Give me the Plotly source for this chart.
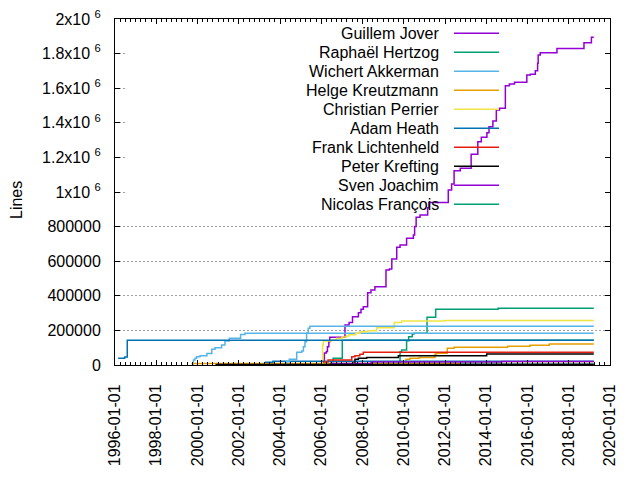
import plotly.graph_objects as go

# dpkg-style "lines per author" history
END_DATE = "2019-03-20"

guillem_dates = ["2005-08-01", "2006-01-25", "2006-02-25", "2006-04-01", "2006-04-20", "2006-05-15",
                 "2006-06-01", "2007-02-25", "2007-05-08", "2007-07-08", "2007-10-20", "2007-12-05",
                 "2008-01-15", "2008-04-01", "2008-05-30", "2008-08-08", "2009-02-20", "2009-04-20",
                 "2009-06-03", "2009-08-29", "2009-10-27", "2010-02-20", "2010-06-20", "2010-07-12",
                 "2010-08-08", "2010-10-16", "2011-02-28", "2011-03-22", "2012-02-28", "2012-04-27",
                 "2012-06-10", "2012-09-27", "2013-04-08", "2013-08-04", "2013-10-05", "2014-01-12",
                 "2014-02-18", "2014-04-28", "2014-06-28", "2014-08-25", "2014-12-05", "2015-02-14",
                 "2015-05-16", "2015-12-20", "2016-02-20", "2016-05-18", "2016-06-28", "2016-07-08",
                 "2016-08-14", "2017-06-06", "2018-09-27", "2019-02-06"]
guillem_lines = [3000, 20000, 70000, 78000, 105000, 135000,
                 160000, 231000, 245000, 279000, 302000, 322000,
                 337000, 418000, 434000, 452000, 549000, 555000,
                 612000, 680000, 694000, 732000, 751000, 800000,
                 854000, 867000, 909000, 940000, 1011000, 1046000,
                 1123000, 1137000, 1218000, 1290000, 1316000, 1343000,
                 1377000, 1410000, 1474000, 1484000, 1614000, 1624000,
                 1634000, 1676000, 1680000, 1701000, 1744000, 1792000,
                 1805000, 1830000, 1863000, 1894000]

raphael_dates = ["2007-03-01", "2009-10-27", "2009-11-24", "2010-02-20", "2010-03-28", "2010-05-30",
                 "2010-07-01", "2011-02-17", "2011-07-20", "2014-07-30"]
raphael_lines = [3000, 77000, 87000, 140000, 164000, 179000,
                 183000, 276000, 322000, 328000]

wichert_dates = ["1999-09-20", "1999-10-20", "1999-11-17", "1999-12-16", "2000-02-14", "2000-06-15",
                 "2000-09-10", "2000-11-06", "2001-03-03", "2001-05-01", "2001-07-16", "2002-02-02",
                 "2002-04-20"]
wichert_lines = [6000, 29000, 39000, 48000, 54000, 67000,
                 91000, 100000, 116000, 139000, 154000, 177000,
                 183000]

helge_dates = ["2009-12-20", "2010-02-10", "2010-04-20", "2010-10-01", "2011-07-08", "2011-08-01",
               "2012-02-10", "2012-06-10", "2015-01-15", "2016-02-15", "2017-01-22"]
helge_lines = [5000, 33000, 39000, 44000, 64000, 68000,
               96500, 102000, 108000, 114000, 121000]

christian_dates = ["2006-01-01", "2006-01-25", "2006-02-05", "2006-07-01", "2006-10-01", "2007-01-01",
                   "2007-03-25", "2007-05-01", "2007-09-01", "2007-11-17", "2008-04-01", "2008-09-08",
                   "2009-07-16", "2009-11-24", "2012-01-01"]
christian_lines = [10000, 116000, 139000, 145000, 154000, 162000,
                   168000, 175000, 183000, 192000, 198000, 216000,
                   246000, 254000, 257000]

adam_dates = ["2003-04-08", "2003-08-28"]
adam_lines = [15600, 21000]

frank_dates = ["2006-02-01", "2006-05-01", "2007-06-25", "2007-08-20", "2007-11-15", "2008-01-15"]
frank_lines = [18000, 29000, 48000, 54000, 62000, 74000]

peter_dates = ["2007-07-01", "2007-08-20", "2007-10-20", "2008-03-15", "2009-09-27", "2014-01-08"]
peter_lines = [10000, 33000, 39000, 44000, 54000, 63000]

sven_dates = ["2006-06-01", "2008-06-01", "2014-10-01"]
sven_lines = [8000, 17000, 20000]

nicolas_dates = ["2006-05-30", "2006-07-30", "2007-01-08"]
nicolas_lines = [19000, 39000, 143000]

# authors drawn but left out of the key
other1_dates = ["1996-02-25", "1996-06-20", "1996-08-05"]
other1_lines = [38700, 46000, 143000]
other2_dates = ["2004-03-28", "2004-04-26", "2004-06-13", "2004-10-23", "2005-01-19", "2005-02-18",
                "2005-03-18", "2005-04-16", "2005-05-15", "2005-06-13"]
other2_lines = [4000, 19000, 33000, 73000, 81000, 106000,
                135000, 183000, 212000, 224000]
other3_dates = ["1999-09-20"]
other3_lines = [8000]
other4_dates = ["2000-11-15"]
other4_lines = [2500]
other5_dates = ["2007-06-01"]
other5_lines = [6000]
other6_dates = ["2012-10-01"]
other6_lines = [6000]

PURPLE, GREEN, LBLUE, ORANGE = '#9400d3', '#009e73', '#56b4e9', '#e69f00'
YELLOW, BLUE, RED, BLACK = '#f0e442', '#0072b2', '#e51e10', '#000000'

# key entries, in key order
key = [
    ("Guillem Jover", PURPLE), ("Raphaël Hertzog", GREEN), ("Wichert Akkerman", LBLUE),
    ("Helge Kreutzmann", ORANGE), ("Christian Perrier", YELLOW), ("Adam Heath", BLUE),
    ("Frank Lichtenheld", RED), ("Peter Krefting", BLACK), ("Sven Joachim", PURPLE),
    ("Nicolas François", GREEN),
]

# draw order (later traces sit on top)
series = [
    ("Guillem Jover", guillem_dates, guillem_lines, PURPLE),
    ("Raphaël Hertzog", raphael_dates, raphael_lines, GREEN),
    ("Nicolas François", nicolas_dates, nicolas_lines, GREEN),
    ("other", other5_dates, other5_lines, GREEN),
    ("Wichert Akkerman", wichert_dates, wichert_lines, LBLUE),
    ("other", other3_dates, other3_lines, ORANGE),
    ("Helge Kreutzmann", helge_dates, helge_lines, ORANGE),
    ("Christian Perrier", christian_dates, christian_lines, YELLOW),
    ("Adam Heath", adam_dates, adam_lines, BLUE),
    ("Frank Lichtenheld", frank_dates, frank_lines, RED),
    ("Peter Krefting", peter_dates, peter_lines, BLACK),
    ("Sven Joachim", sven_dates, sven_lines, PURPLE),
    ("other", other2_dates, other2_lines, LBLUE),
    ("other", other6_dates, other6_lines, LBLUE),
    ("other", other4_dates, other4_lines, BLACK),
    ("other", other1_dates, other1_lines, BLUE),
]

fig = go.Figure()
for name, dates, lines, color in series:
    fig.add_trace(go.Scatter(
        x=dates + [END_DATE], y=lines + [lines[-1]], name=name,
        mode='lines', line=dict(color=color, width=1.5, shape='hv'),
        showlegend=False,
    ))

# opaque key box hides the upper grid lines
fig.add_shape(type='rect', xref='x', yref='y', x0='1996-07-01', x1='2020-01-01',
              y0=900000, y1=2000000, fillcolor='white', line_width=0, layer='between')

# gnuplot-style key: text right-aligned, sample line to its right
PX_L, PX_W, PX_B, PX_H = 115, 495, 365, 346
for i, (name, color) in enumerate(key):
    py = 33.3 + i * 19.0
    yp = (PX_B - py) / PX_H
    fig.add_annotation(x=(441 - PX_L) / PX_W, y=yp, xref='paper', yref='paper',
                       text=name, showarrow=False, xanchor='right', yanchor='middle',
                       font=dict(size=16, color='black'))
    fig.add_shape(type='line', xref='paper', yref='paper',
                  x0=(454 - PX_L) / PX_W, x1=(499 - PX_L) / PX_W, y0=yp, y1=yp,
                  line=dict(color=color, width=1.5))

fig.add_annotation(x=(16 - PX_L) / PX_W, y=(PX_B - 200) / PX_H, xref='paper', yref='paper',
                   text='Lines', textangle=-90, showarrow=False,
                   xanchor='center', yanchor='middle',
                   font=dict(size=16, color='black'))

ytick_vals = [0, 200000, 400000, 600000, 800000, 1000000, 1200000, 1400000, 1600000, 1800000, 2000000]
ytick_text = ["0", "200000", "400000", "600000", "800000", "1x10 <sup>6</sup>", "1.2x10 <sup>6</sup>",
              "1.4x10 <sup>6</sup>", "1.6x10 <sup>6</sup>", "1.8x10 <sup>6</sup>", "2x10 <sup>6</sup>"]

# the page body adds an 8px offset, so the figure is 8px smaller and margins shifted
fig.update_layout(
    width=632, height=472,
    margin=dict(l=107, r=30, t=11, b=115),
    paper_bgcolor='white', plot_bgcolor='white',
    font=dict(family='Liberation Sans, Arial, sans-serif', size=16, color='black'),
    showlegend=False,
    xaxis=dict(
        type='date', range=['1996-01-01', '2020-01-01'], automargin=False,
        tick0='1996-01-01', dtick='M24', tickformat='%Y-%m-%d', tickangle=-90,
        ticks='inside', ticklen=5, tickcolor='black', ticklabelstandoff=12,
        ticklabeloverflow='allow',
        showline=True, linecolor='black', linewidth=1, mirror='allticks',
        showgrid=False, zeroline=False,
        minor=dict(tick0='1996-01-01', dtick='M3', ticks='inside', ticklen=3,
                   tickcolor='black', showgrid=False),
    ),
    yaxis=dict(
        range=[0, 2000000], tickvals=ytick_vals, ticktext=ytick_text, automargin=False,
        ticks='inside', ticklen=5, tickcolor='black', ticklabelstandoff=10,
        ticklabeloverflow='allow',
        showline=True, linecolor='black', linewidth=1, mirror='allticks',
        showgrid=True, gridcolor='#a0a0a0', gridwidth=1, griddash='2px,2px',
        zeroline=False,
    ),
)

fig.write_html("out.html")
